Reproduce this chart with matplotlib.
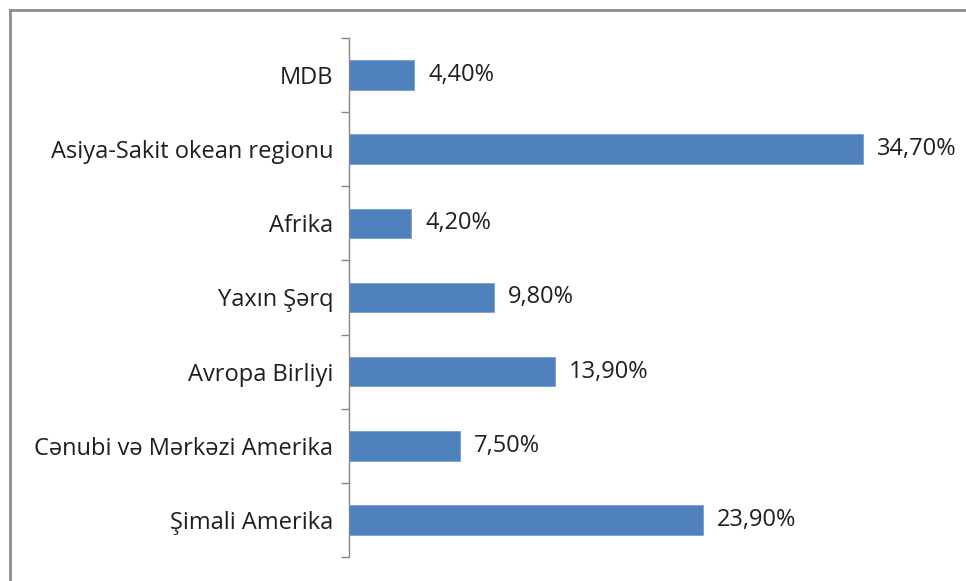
import matplotlib
matplotlib.use("Agg")
import matplotlib.pyplot as plt
from matplotlib.lines import Line2D
import numpy as np

regions = [
    "MDB",
    "Asiya-Sakit okean regionu",
    "Afrika",
    "Yaxın Şərq",
    "Avropa Birliyi",
    "Cənubi və Mərkəzi Amerika",
    "Şimali Amerika",
]
shares = [4.4, 34.7, 4.2, 9.8, 13.9, 7.5, 23.9]
share_labels = ["4,40%", "34,70%", "4,20%", "9,80%", "13,90%", "7,50%", "23,90%"]

plt.rcParams["font.family"] = ["Open Sans", "DejaVu Sans"]

fig = plt.figure(figsize=(9.66, 5.81), dpi=100)
ax = fig.add_axes([349 / 966, 1 - 557 / 581, 592 / 966, 519 / 581])

pos = np.arange(len(regions))
ax.barh(pos, shares, height=0.4, color="#4F81BD", edgecolor="#7A9FCF", linewidth=0.6)

for p, v, lab in zip(pos, shares, share_labels):
    ax.annotate(lab, (v, p), xytext=(10, 0), textcoords="offset points",
                va="center", ha="left", fontsize=17, color="#1F1F1F")

ax.set_xlim(0, 40)
ax.set_ylim(len(regions) - 0.5, -0.5)
ax.set_yticks(pos)
ax.set_yticklabels(regions, fontsize=17, color="#1F1F1F")
ax.set_yticks(np.arange(len(regions) + 1) - 0.5, minor=True)
ax.tick_params(axis="y", which="major", length=0, pad=11.5)
ax.tick_params(axis="y", which="minor", length=6, width=1, color="#868686", direction="out")
ax.set_xticks([])
for s in ["top", "right", "bottom"]:
    ax.spines[s].set_visible(False)
ax.spines["left"].set_color("#868686")
ax.spines["left"].set_linewidth(1)

# outer chart frame (left and top edges visible)
fx = 10 / 966
fy = 1 - 10 / 581
fig.add_artist(Line2D([fx, fx], [0, fy], transform=fig.transFigure, color="#8C8C8C", lw=2))
fig.add_artist(Line2D([fx, 1], [fy, fy], transform=fig.transFigure, color="#8C8C8C", lw=2))

fig.savefig("out.png", dpi=100)
